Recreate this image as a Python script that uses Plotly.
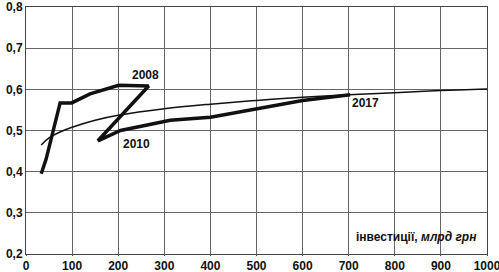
import plotly.graph_objects as go

# Actual data path (investments, bn UAH vs index)
data_x = [33, 43.5, 74, 99, 139, 201, 266, 156, 205, 270, 313, 400, 500, 600, 703]
data_y = [0.395, 0.43, 0.567, 0.567, 0.589, 0.610, 0.608, 0.475, 0.500, 0.515, 0.525, 0.532, 0.553, 0.573, 0.587]

# Trend line
trend_x = [33, 50, 75, 100, 150, 200, 300, 400, 500, 600, 700, 800, 900, 1000, 1015]
trend_y = [0.465, 0.482, 0.497, 0.508, 0.525, 0.537, 0.553, 0.564, 0.573, 0.581, 0.587, 0.592, 0.597, 0.601, 0.602]

x_ticks = [0, 100, 200, 300, 400, 500, 600, 700, 800, 900, 1000]
y_ticks = [0.2, 0.3, 0.4, 0.5, 0.6, 0.7, 0.8]

year_labels = ["2008", "2010", "2017"]
year_x = [259, 239, 737]
year_y = [0.634, 0.467, 0.566]

font = dict(family="Liberation Sans, Arial, sans-serif", size=12, color="#111")

fig = go.Figure()
fig.add_trace(go.Scatter(x=trend_x, y=trend_y, mode="lines", line=dict(color="#111", width=1.5, shape="spline"),
                         hoverinfo="skip"))
fig.add_trace(go.Scatter(x=data_x, y=data_y, mode="lines", line=dict(color="#111", width=3.5),
                         hoverinfo="skip"))

for t, xx, yy in zip(year_labels, year_x, year_y):
    fig.add_annotation(x=xx, y=yy, text="<b>" + t + "</b>", showarrow=False, font=font)

fig.add_annotation(x=983, y=0.241, xanchor="right", yanchor="middle", showarrow=False,
                   text="<b>інвестиції, <i>млрд грн</i></b>", font=font)

fig.update_xaxes(range=[0, 1000], tickvals=x_ticks, ticktext=["<b>%d</b>" % v for v in x_ticks],
                 showgrid=True, gridcolor="#666", gridwidth=1, showline=True, linecolor="#444",
                 linewidth=1, mirror=True, ticks="outside", ticklen=1, tickcolor="#444",
                 zeroline=False, tickfont=font, ticklabeloverflow="allow", automargin=False)
fig.update_yaxes(range=[0.2, 0.8], tickvals=y_ticks,
                 ticktext=["<b>" + ("%.1f" % v).replace(".", ",") + "</b>" for v in y_ticks],
                 showgrid=True, gridcolor="#666", gridwidth=1, showline=True, linecolor="#444",
                 linewidth=1, mirror=True, ticks="", zeroline=False, tickfont=font,
                 ticklabeloverflow="allow", automargin=False)

fig.update_layout(width=499, height=272, margin=dict(l=26, r=12, t=7, b=18),
                  plot_bgcolor="white", paper_bgcolor="white", showlegend=False)

fig.write_html("out.html")
